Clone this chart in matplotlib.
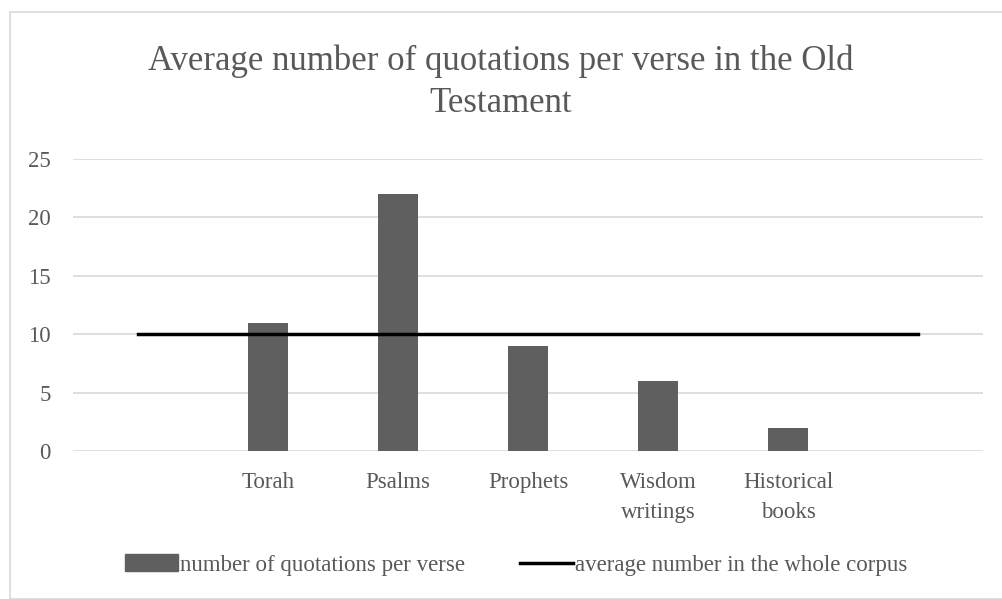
import matplotlib.pyplot as plt
from matplotlib.patches import Rectangle
from matplotlib.lines import Line2D

categories = ["", "Torah", "Psalms", "Prophets", "Wisdom\nwritings", "Historical\nbooks", ""]
quotations = [0, 11, 22, 9, 6, 2, 0]
corpus_average = [10, 10, 10, 10, 10, 10, 10]
y_ticks = [0, 5, 10, 15, 20, 25]

text_color = '#595959'
bar_color = '#5f5f5f'
plt.rcParams['font.family'] = ['Liberation Serif', 'DejaVu Serif']

fig = plt.figure(figsize=(10.02, 5.99), dpi=100)
fig.patches.append(Rectangle((10 / 1002, 0), 1.0, 1 - 12 / 599, transform=fig.transFigure,
                             fill=False, edgecolor='#d9d9d9', linewidth=1.2))

ax = fig.add_axes([73 / 1002, 1 - 451 / 599, 910 / 1002, 292 / 599])
x = list(range(len(categories)))
ax.bar(x[1:-1], quotations[1:-1], width=0.315, color=bar_color, zorder=2,
       label='number of quotations per verse')
ax.plot(x, corpus_average, color='black', linewidth=2.5, zorder=3,
        label='average number in the whole corpus')

ax.set_xlim(-0.5, len(categories) - 0.5)
ax.set_ylim(0, 25)
ax.set_yticks(y_ticks)
ax.set_xticks(x)
ax.set_xticklabels(categories, linespacing=1.55)
ax.yaxis.grid(True, color='#d9d9d9', linewidth=1.2, zorder=0)
for s in ax.spines.values():
    s.set_visible(False)
ax.tick_params(length=0, labelsize=16.5, labelcolor=text_color)
ax.tick_params(axis='x', pad=15)
ax.tick_params(axis='y', pad=16)

fig.suptitle('Average number of quotations per verse in the Old\nTestament', y=1 - 44 / 599,
             fontsize=25, color=text_color, linespacing=1.38)

handles = [Rectangle((0, 0), 1, 1, color=bar_color),
           Line2D([0], [0], color='black', linewidth=2.5)]
fig.legend(handles, ['number of quotations per verse', 'average number in the whole corpus'],
           loc='center', bbox_to_anchor=(0.515, 1 - 565 / 599), ncol=2, frameon=False,
           fontsize=16.5, labelcolor=text_color, handlelength=2.3, handletextpad=0.1,
           columnspacing=2.4)

fig.savefig('out.png', dpi=100)
